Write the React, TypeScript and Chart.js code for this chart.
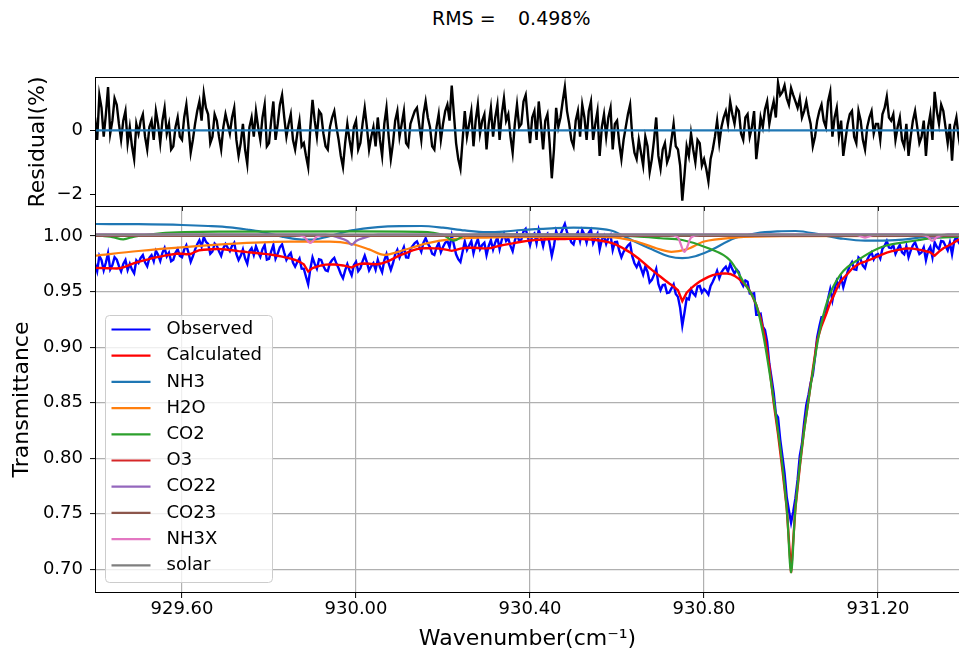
import React, { useEffect, useRef } from "react";
import { Chart, registerables } from "chart.js";

Chart.register(...registerables);

// ---------------- data ----------------
const WN_START = 929.4;
const WN_STEP_CALC = 0.01;
const WN_STEP_OBS = 0.005;

const CALCULATED = [
  0.9713, 0.9712, 0.9711, 0.971, 0.9709, 0.9708, 0.9712, 0.9725, 0.974, 0.9755,
  0.9767, 0.9778, 0.9788, 0.9798, 0.9807, 0.9815, 0.9823, 0.983, 0.9836, 0.9842,
  0.984, 0.9836, 0.9838, 0.9858, 0.9872, 0.9876, 0.9879, 0.9881, 0.9883, 0.9882,
  0.9878, 0.9874, 0.9869, 0.9864, 0.986, 0.9855, 0.9851, 0.9847, 0.9843, 0.9839,
  0.9835, 0.9829, 0.9822, 0.9815, 0.9806, 0.9797, 0.9784, 0.9768, 0.9745, 0.968,
  0.9712, 0.9725, 0.9735, 0.9742, 0.9745, 0.9743, 0.974, 0.9735, 0.9727, 0.9716,
  0.9738, 0.975, 0.9753, 0.975, 0.9746, 0.9746, 0.9755, 0.9767, 0.9785, 0.9805,
  0.9825, 0.984, 0.9855, 0.987, 0.9882, 0.9889, 0.989, 0.989, 0.9889, 0.9887,
  0.9882, 0.9875, 0.9866, 0.9875, 0.9886, 0.9892, 0.9895, 0.9894, 0.9892, 0.989,
  0.9889, 0.9892, 0.9902, 0.9912, 0.992, 0.9927, 0.9934, 0.9941, 0.9948, 0.9954,
  0.9959, 0.9963, 0.9966, 0.9969, 0.9971, 0.9972, 0.9973, 0.9973, 0.9973, 0.9974,
  0.9974, 0.9974, 0.9973, 0.9971, 0.9968, 0.9964, 0.9959, 0.9953, 0.9945, 0.9934,
  0.9918, 0.9898, 0.9875, 0.9853, 0.9825, 0.9795, 0.9762, 0.9728, 0.9695, 0.9664,
  0.9633, 0.9602, 0.9572, 0.9545, 0.9512, 0.9414, 0.949, 0.9528, 0.9562, 0.959,
  0.9612, 0.9632, 0.9648, 0.9657, 0.9663, 0.9664, 0.9658, 0.9642, 0.9614, 0.958,
  0.9538, 0.9468, 0.938, 0.926, 0.909, 0.883, 0.85, 0.822, 0.79, 0.755,
  0.697, 0.755, 0.792, 0.826, 0.852, 0.88, 0.906, 0.919, 0.929, 0.94,
  0.948, 0.957, 0.962, 0.966, 0.9705, 0.9735, 0.9757, 0.977, 0.9784, 0.98,
  0.9818, 0.9835, 0.985, 0.9861, 0.987, 0.9878, 0.9885, 0.9889, 0.9886, 0.988,
  0.9873, 0.9863, 0.9853, 0.9823, 0.986, 0.989, 0.991, 0.993, 0.9955, 0.9975,
];

const OBSERVED = [
  0.9753, 0.9683, 0.9822, 0.9782, 0.9691, 0.9761, 0.9845, 0.97, 0.9739, 0.9809, 0.9788, 0.973, 0.9682, 0.9749, 0.9785, 0.9693, 0.975, 0.9698, 0.9665, 0.9781,
  0.9757, 0.9803, 0.9828, 0.9763, 0.9728, 0.9803, 0.9828, 0.9773, 0.9867, 0.9831, 0.9775, 0.9849, 0.9893, 0.9817, 0.985, 0.9773, 0.9786, 0.9849, 0.9882, 0.9821,
  0.981, 0.9878, 0.9916, 0.9847, 0.9768, 0.9818, 0.9878, 0.9925, 0.9962, 0.9904, 0.9991, 0.9948, 0.9929, 0.984, 0.9861, 0.9932, 0.9913, 0.9863, 0.9822, 0.989,
  0.9928, 0.9896, 0.9864, 0.9912, 0.9939, 0.9837, 0.9784, 0.9822, 0.988, 0.9798, 0.975, 0.9863, 0.9891, 0.9829, 0.9907, 0.9855, 0.9813, 0.9881, 0.9919, 0.9787,
  0.9795, 0.9862, 0.9919, 0.9796, 0.9842, 0.9899, 0.9925, 0.9851, 0.9786, 0.9822, 0.9847, 0.9761, 0.9724, 0.9766, 0.9798, 0.9707, 0.9705, 0.9633, 0.9565, 0.9706,
  0.9807, 0.9749, 0.9705, 0.979, 0.9785, 0.9729, 0.9692, 0.9684, 0.9755, 0.9784, 0.9803, 0.9752, 0.971, 0.9658, 0.962, 0.9691, 0.9747, 0.9692, 0.9646, 0.9737,
  0.9768, 0.9684, 0.971, 0.9772, 0.9823, 0.9762, 0.969, 0.9728, 0.9756, 0.9696, 0.9786, 0.9721, 0.9675, 0.9781, 0.9837, 0.9756, 0.9695, 0.9755, 0.9835, 0.9875,
  0.9805, 0.9853, 0.99, 0.9808, 0.9805, 0.9883, 0.991, 0.9936, 0.9952, 0.9906, 0.9859, 0.994, 0.998, 0.993, 0.99, 0.984, 0.9829, 0.9898, 0.9937, 0.9855,
  0.9902, 0.9939, 0.9955, 0.9901, 1.0006, 0.9921, 0.9835, 0.9791, 0.9766, 0.9859, 0.9952, 0.9874, 0.9915, 0.9955, 0.9844, 0.9923, 0.9972, 0.9881, 0.992, 0.994,
  0.9829, 0.9911, 0.9962, 0.9877, 0.9942, 0.9987, 0.9882, 0.9966, 1.002, 0.9954, 0.9977, 0.9911, 0.9864, 0.9958, 1.0021, 0.9955, 0.9968, 1.0041, 1.0064, 0.9987,
  0.9919, 1.0001, 1.0023, 0.9935, 1.0056, 0.9988, 0.9909, 1.0, 1.0021, 0.9932, 0.9822, 0.9913, 1.0043, 0.9983, 1.0013, 1.0063, 1.0108, 1.0034, 0.9994, 0.9944,
  0.9924, 1.0004, 1.0034, 0.9954, 1.0053, 1.0012, 0.9941, 1.003, 1.0058, 0.9936, 0.9984, 1.0022, 0.9879, 0.9966, 1.0003, 0.9929, 0.9985, 1.001, 0.9874, 0.9946,
  0.9948, 0.9868, 0.9808, 0.9857, 0.9885, 0.9914, 0.9933, 0.9819, 0.9755, 0.972, 0.9765, 0.9709, 0.9652, 0.9725, 0.9678, 0.9582, 0.9605, 0.965, 0.9704, 0.9569,
  0.9513, 0.9558, 0.9562, 0.9487, 0.9492, 0.9529, 0.9565, 0.9479, 0.9452, 0.9353, 0.9194, 0.9312, 0.944, 0.9429, 0.9518, 0.9485, 0.9462, 0.9546, 0.955, 0.9491,
  0.9522, 0.9502, 0.9472, 0.955, 0.9588, 0.9633, 0.9687, 0.962, 0.9673, 0.9704, 0.9724, 0.9681, 0.9748, 0.97, 0.9662, 0.9698, 0.9674, 0.9587, 0.955, 0.9599,
  0.9588, 0.9483, 0.9478, 0.9484, 0.929, 0.929, 0.93, 0.9185, 0.9155, 0.905, 0.885, 0.8725, 0.859, 0.84, 0.8368, 0.817, 0.802, 0.7865, 0.765, 0.753,
  0.742, 0.752, 0.764, 0.7805, 0.802, 0.813, 0.832, 0.848, 0.857, 0.868, 0.875, 0.891, 0.909, 0.9185, 0.927, 0.927, 0.93, 0.9435, 0.952, 0.942,
  0.952, 0.9595, 0.955, 0.9625, 0.954, 0.961, 0.968, 0.9733, 0.9765, 0.97, 0.9695, 0.9806, 0.9787, 0.9734, 0.971, 0.9787, 0.9824, 0.9852, 0.979, 0.9829,
  0.9838, 0.9797, 0.9885, 0.9913, 0.9955, 0.9896, 0.9891, 0.9916, 0.984, 0.9884, 0.9918, 0.9852, 0.9835, 0.9907, 0.9809, 0.9868, 0.9916, 0.9943, 0.989, 0.9837,
  0.9853, 0.9898, 0.9783, 0.9868, 0.9903, 0.9808, 0.9943, 0.9902, 0.988, 0.9955, 0.995, 0.991, 0.987, 0.994, 0.9835, 0.9953, 0.9995, 0.9945, 0.9915,
];

const RESIDUAL = [
  0.4, -0.3, 1.1, 0.7, -0.2, 0.5, 1.35, -0.1, 0.3, 1.0, 0.8, 0.2, -0.3, 0.3, 0.6, -0.4, 0.1, -0.5, -0.9, 0.2,
  -0.1, 0.3, 0.5, -0.2, -0.6, 0.1, 0.3, -0.3, 0.6, 0.2, -0.4, 0.3, 0.7, -0.1, 0.2, -0.6, -0.5, 0.1, 0.4, -0.2,
  -0.3, 0.4, 0.8, 0.1, -0.7, -0.3, 0.2, 0.6, 0.9, 0.3, 1.15, 0.7, 0.5, -0.4, -0.2, 0.5, 0.3, -0.2, -0.6, 0.1,
  0.5, 0.2, -0.1, 0.4, 0.7, -0.3, -0.8, -0.4, 0.2, -0.6, -1.05, 0.1, 0.4, -0.2, 0.6, 0.1, -0.3, 0.4, 0.8, -0.5,
  -0.4, 0.3, 0.9, -0.3, 0.2, 0.8, 1.1, 0.4, -0.2, 0.2, 0.5, -0.3, -0.6, -0.1, 0.3, -0.5, -0.4, -0.8, -1.15, 0.1,
  0.95, 0.3, -0.2, 0.6, 0.5, -0.1, -0.5, -0.6, 0.1, 0.4, 0.6, 0.1, -0.3, -0.8, -1.15, -0.4, 0.2, -0.3, -0.7, 0.1,
  0.3, -0.6, -0.4, 0.2, 0.7, 0.1, -0.6, -0.2, 0.1, -0.5, 0.4, -0.3, -0.8, 0.2, 0.7, -0.2, -0.9, -0.4, 0.3, 0.6,
  -0.2, 0.2, 0.6, -0.4, -0.5, 0.2, 0.4, 0.6, 0.7, 0.2, -0.3, 0.5, 0.9, 0.4, 0.1, -0.5, -0.6, 0.1, 0.5, -0.3,
  0.2, 0.6, 0.8, 0.3, 1.4, 0.5, -0.4, -0.9, -1.2, -0.3, 0.6, -0.2, 0.2, 0.6, -0.5, 0.3, 0.8, -0.1, 0.3, 0.5,
  -0.6, 0.2, 0.7, -0.2, 0.4, 0.8, -0.3, 0.5, 1.0, 0.3, 0.5, -0.2, -0.7, 0.2, 0.8, 0.1, 0.2, 0.9, 1.1, 0.3,
  -0.4, 0.4, 0.6, -0.3, 0.9, 0.2, -0.6, 0.3, 0.5, -0.4, -1.5, -0.6, 0.7, 0.1, 0.4, 0.9, 1.35, 0.6, 0.2, -0.3,
  -0.5, 0.3, 0.6, -0.2, 0.8, 0.4, -0.3, 0.6, 0.9, -0.3, 0.2, 0.6, -0.8, 0.1, 0.5, -0.2, 0.4, 0.7, -0.6, 0.2,
  0.3, -0.4, -0.9, -0.3, 0.1, 0.5, 0.8, -0.2, -0.7, -0.9, -0.3, -0.7, -1.1, -0.2, -0.5, -1.3, -0.9, -0.3, 0.4, -0.8,
  -1.2, -0.6, -0.4, -1.0, -0.8, -0.3, 0.2, -0.5, -0.6, -1.1, -2.2, -1.4, -0.5, -0.8, -0.1, -0.6, -1.0, -0.3, -0.4, -1.1,
  -0.9, -1.2, -1.6, -0.9, -0.6, -0.2, 0.3, -0.4, 0.1, 0.4, 0.6, 0.2, 0.9, 0.5, 0.2, 0.7, 0.6, -0.1, -0.3, 0.4,
  0.5, -0.2, 0.1, 0.6, -0.9, -0.3, 0.4, 0.1, 0.65, 0.9, 0.2, 0.6, 0.9, 0.4, 1.48, 1.1, 1.2, 1.4, 1.0, 0.8,
  1.32, 1.1, 0.9, 0.7, 1.0, 0.4, 0.6, 0.9, 0.5, 0.2, -0.5, -0.2, 0.3, 0.6, 0.8, 0.3, 0.1, 0.9, 1.2, -0.2,
  0.4, 0.7, -0.2, 0.3, -0.8, -0.3, 0.2, 0.5, 0.6, -0.2, -0.4, 0.6, 0.3, -0.3, -0.6, 0.1, 0.4, 0.6, -0.1, 0.2,
  0.2, -0.3, 0.5, 0.7, 1.05, 0.4, 0.3, 0.5, -0.3, 0.1, 0.4, -0.3, -0.5, 0.2, -0.8, -0.2, 0.3, 0.6, 0.1, -0.4,
  -0.2, 0.3, -0.8, 0.1, 0.5, -0.3, 1.2, 0.6, 0.2, 0.8, 0.6, 0.1, -0.4, 0.2, -0.95, 0.1, 0.4, -0.2, -0.6,
];

const NH3_WN = [929.4, 929.5, 929.6, 929.66, 929.71, 929.75, 929.78, 929.83, 929.87, 929.9, 929.93, 929.99, 930.05, 930.1, 930.15, 930.2, 930.25, 930.3, 930.34, 930.38, 930.45, 930.5, 930.55, 930.59, 930.63, 930.68, 930.72, 930.75, 930.78, 930.81, 930.87, 930.92, 930.97, 931.01, 931.07, 931.12, 931.17, 931.24, 931.32, 931.39];
const NH3_T = [1.0108, 1.0106, 1.0099, 1.009, 1.0078, 1.0058, 1.004, 0.9995, 0.997, 0.9967, 0.999, 1.005, 1.008, 1.0089, 1.009, 1.0075, 1.005, 1.0035, 1.004, 1.0054, 1.0069, 1.0075, 1.0068, 1.0045, 0.997, 0.988, 0.9815, 0.98, 0.9818, 0.9862, 0.998, 1.0025, 1.0042, 1.0045, 1.001, 0.9975, 0.9958, 0.9963, 0.9994, 1.0002];

const H2O_WN = [929.4, 929.5, 929.62, 929.73, 929.85, 929.94, 929.99, 930.03, 930.065, 930.11, 930.16, 930.22, 930.3, 930.45, 930.58, 930.64, 930.69, 930.725, 930.76, 930.8, 930.87, 930.98, 931.39];
const H2O_T = [0.9823, 0.9865, 0.9904, 0.9934, 0.995, 0.995, 0.9928, 0.988, 0.983, 0.9874, 0.9932, 0.9972, 0.9986, 0.9992, 0.999, 0.9955, 0.989, 0.9858, 0.988, 0.995, 0.9985, 0.9998, 1.0];

const CO2_WN = [929.4, 929.44, 929.465, 929.49, 929.55, 929.7, 930.0, 930.15, 930.2, 930.225, 930.25, 930.32, 930.5, 930.62, 930.7, 930.75, 930.81, 930.86, 930.89, 930.92, 930.936, 930.96, 930.978, 930.991, 931.0, 931.009, 931.022, 931.04, 931.064, 931.083, 931.113, 931.166, 931.21, 931.28, 931.32, 931.39];
const CO2_T = [1.0008, 0.999, 0.997, 0.9995, 1.0025, 1.004, 1.0042, 1.0038, 1.001, 0.9958, 1.0005, 1.0015, 1.0012, 1.0, 0.998, 0.9964, 0.989, 0.978, 0.959, 0.938, 0.911, 0.8523, 0.8, 0.75, 0.697, 0.75, 0.8, 0.852, 0.911, 0.941, 0.965, 0.9814, 0.9904, 0.9955, 0.9979, 0.9994];

const O3_WN = [929.4, 931.39];
const O3_T = [1.0, 1.0];

const CO22_WN = [929.4, 929.93, 929.96, 929.98, 929.99, 930.0, 930.02, 930.05, 931.3, 931.33, 931.36, 931.39];
const CO22_T = [1.0015, 1.0012, 0.9985, 0.9955, 0.992, 0.9955, 0.9985, 1.0012, 1.0015, 0.998, 1.0015, 1.0015];

const CO23_WN = [929.4, 931.39];
const CO23_T = [1.0, 1.0];

const NH3X_WN = [929.4, 929.86, 929.88, 929.895, 929.91, 929.93, 930.72, 930.74, 930.755, 930.77, 930.79, 931.15, 931.17, 931.19, 931.3, 931.315, 931.325, 931.335, 931.35, 931.39];
const NH3X_T = [1.001, 1.001, 0.9995, 0.9938, 0.9995, 1.001, 1.001, 0.9985, 0.9858, 0.9985, 1.001, 1.001, 0.9985, 1.001, 1.001, 0.999, 0.9955, 0.999, 1.001, 1.001];

const SOLAR_WN = [929.4, 931.39];
const SOLAR_T = [1.0013, 1.0013];

const SERIES_LABELS = ["Observed", "Calculated", "NH3", "H2O", "CO2", "O3", "CO22", "CO23", "NH3X", "solar"];
const SERIES_COLORS = ["#0000ff", "#ff0000", "#1f77b4", "#ff7f0e", "#2ca02c", "#d62728", "#9467bd", "#8c564b", "#e377c2", "#7f7f7f"];

const X_TICKS = [929.6, 930.0, 930.4, 930.8, 931.2];
const T_TICKS = [0.7, 0.75, 0.8, 0.85, 0.9, 0.95, 1.0];
const R_TICKS = [-2, 0];
const ZERO_LEVEL = 0;

const X_MIN = 929.4023;
const X_MAX = 931.386;
const T_MIN = 0.6796;
const T_MAX = 1.0261;
const R_MIN = -2.366;
const R_MAX = 1.634;

const RMS_LABEL = "RMS =";
const RMS_VALUE = "0.498%";

// ---------------- rendering ----------------
const FONT = "'DejaVu Sans', 'Liberation Sans', sans-serif";
const W = 959;
const H = 652;

const framePlugin = {
  id: "mplFrame",
  afterDatasetsDraw(chart: any) {
    const { ctx, chartArea: a } = chart;
    ctx.save();
    ctx.strokeStyle = "#000";
    ctx.lineWidth = 1;
    const l = Math.round(a.left) - 0.5;
    const t = Math.round(a.top) - 0.5;
    const r = Math.round(a.right) + 0.5;
    const b = Math.round(a.bottom) + 0.5;
    ctx.strokeRect(l, t, r - l, b - t);
    ctx.restore();
  },
};

const legendPlugin = {
  id: "mplLegend",
  afterDraw(chart: any) {
    const { ctx, chartArea: a } = chart;
    const rowH = 26.2;
    const w = 167;
    const h = 267;
    const left = Math.round(a.left + 9) + 0.5;
    const top = Math.round(a.bottom - 10 - h) + 0.5;
    ctx.save();
    ctx.beginPath();
    if (ctx.roundRect) ctx.roundRect(left, top, w, h, 4);
    else ctx.rect(left, top, w, h);
    ctx.fillStyle = "rgba(255,255,255,0.8)";
    ctx.fill();
    ctx.strokeStyle = "#cccccc";
    ctx.lineWidth = 1;
    ctx.stroke();
    ctx.font = `18px ${FONT}`;
    ctx.textBaseline = "middle";
    ctx.textAlign = "left";
    SERIES_LABELS.forEach((lab, k) => {
      const y = top + 14 + k * rowH;
      ctx.strokeStyle = SERIES_COLORS[k];
      ctx.lineWidth = 2.2;
      ctx.beginPath();
      ctx.moveTo(left + 6, y);
      ctx.lineTo(left + 45, y);
      ctx.stroke();
      ctx.fillStyle = "#000";
      ctx.fillText(lab, left + 61, y);
    });
    ctx.restore();
  },
};

function pts(xs: number[], ys: number[]) {
  return xs.map((x, i) => ({ x, y: ys[i] }));
}

export default function App() {
  const topRef = useRef<HTMLCanvasElement>(null);
  const botRef = useRef<HTMLCanvasElement>(null);

  useEffect(() => {
    const wnCalc = CALCULATED.map((_, i) => +(WN_START + i * WN_STEP_CALC).toFixed(3));
    const wnObs = OBSERVED.map((_, i) => +(WN_START + i * WN_STEP_OBS).toFixed(4));

    const baseOpts: any = {
      responsive: false,
      animation: false,
      devicePixelRatio: 1,
      events: [],
      plugins: {
        legend: { display: false },
        tooltip: { enabled: false },
        title: { display: false },
      },
      elements: { point: { radius: 0 }, line: { borderWidth: 2.2, tension: 0 } },
    };

    const tickFont = { family: FONT, size: 18 };
    const titleFont = { family: FONT, size: 22 };

    const c1 = new Chart(topRef.current as HTMLCanvasElement, {
      type: "line",
      data: {
        datasets: [
          {
            label: "Residual",
            data: pts(wnObs, RESIDUAL),
            borderColor: "#000000",
            borderWidth: 2.4,
            order: 2,
          },
          {
            label: "zero",
            data: [
              { x: X_MIN, y: ZERO_LEVEL },
              { x: X_MAX, y: ZERO_LEVEL },
            ],
            borderColor: "#1f77b4",
            borderWidth: 2.2,
            order: 1,
          },
        ],
      },
      options: {
        ...baseOpts,
        layout: { padding: { top: 78, left: 0, right: 0, bottom: 0 } },
        scales: {
          x: {
            type: "linear",
            min: X_MIN,
            max: X_MAX,
            afterFit: (s: any) => {
              s.height = H - 206;
            },
            afterBuildTicks: (s: any) => {
              s.ticks = X_TICKS.map((v) => ({ value: v }));
            },
            grid: { drawOnChartArea: false, drawTicks: true, tickLength: 5, tickColor: "#000", tickWidth: 1 },
            border: { display: false },
            ticks: { display: false },
          },
          y: {
            type: "linear",
            min: R_MIN,
            max: R_MAX,
            afterFit: (s: any) => {
              s.width = 96;
            },
            afterBuildTicks: (s: any) => {
              s.ticks = R_TICKS.map((v) => ({ value: v }));
            },
            grid: { drawOnChartArea: false, drawTicks: true, tickLength: 6, tickColor: "#000", tickWidth: 1 },
            border: { display: false },
            ticks: {
              color: "#000",
              font: tickFont,
              padding: 7,
              callback: (v: any) => (Number(v) < 0 ? "\u2212" + Math.abs(Number(v)) : String(v)),
            },
            title: {
              display: true,
              text: "Residual(%)",
              color: "#000",
              font: titleFont,
              padding: { top: 24.8, bottom: 0 },
            },
          },
        },
      },
      plugins: [framePlugin],
    } as any);

    const series = [
      pts(wnObs, OBSERVED),
      pts(wnCalc, CALCULATED),
      pts(NH3_WN, NH3_T),
      pts(H2O_WN, H2O_T),
      pts(CO2_WN, CO2_T),
      pts(O3_WN, O3_T),
      pts(CO22_WN, CO22_T),
      pts(CO23_WN, CO23_T),
      pts(NH3X_WN, NH3X_T),
      pts(SOLAR_WN, SOLAR_T),
    ];

    const c2 = new Chart(botRef.current as HTMLCanvasElement, {
      type: "line",
      data: {
        datasets: series.map((d, k) => ({
          label: SERIES_LABELS[k],
          data: d,
          borderColor: SERIES_COLORS[k],
          borderWidth: k < 2 ? 2.4 : 2.2,
          cubicInterpolationMode: k < 2 ? "default" : "monotone",
          tension: k < 2 ? 0 : 0.4,
          order: series.length - k,
        })),
      },
      options: {
        ...baseOpts,
        layout: { padding: { top: 207, left: 0, right: 0, bottom: 0 } },
        scales: {
          x: {
            type: "linear",
            min: X_MIN,
            max: X_MAX,
            afterFit: (s: any) => {
              s.height = H - 592;
            },
            afterBuildTicks: (s: any) => {
              s.ticks = X_TICKS.map((v) => ({ value: v }));
            },
            grid: { color: "#b0b0b0", lineWidth: 1.2, drawTicks: true, tickLength: 6, tickColor: "#000", tickWidth: 1 },
            border: { display: false },
            ticks: {
              color: "#000",
              font: tickFont,
              padding: 1,
              maxRotation: 0,
              autoSkip: false,
              callback: (v: any) => Number(v).toFixed(2),
            },
            title: {
              display: true,
              text: "Wavenumber(cm\u207B\u00B9)",
              color: "#000",
              font: titleFont,
              padding: { top: 0, bottom: 0 },
            },
          },
          y: {
            type: "linear",
            min: T_MIN,
            max: T_MAX,
            afterFit: (s: any) => {
              s.width = 96;
            },
            afterBuildTicks: (s: any) => {
              s.ticks = T_TICKS.map((v) => ({ value: v }));
            },
            grid: { color: "#b0b0b0", lineWidth: 1.2, drawTicks: true, tickLength: 6, tickColor: "#000", tickWidth: 1 },
            border: { display: false },
            ticks: {
              color: "#000",
              font: tickFont,
              padding: 7,
              callback: (v: any) => Number(v).toFixed(2),
            },
            title: {
              display: true,
              text: "Transmittance",
              color: "#000",
              font: titleFont,
              padding: { top: 8.8, bottom: 0 },
            },
          },
        },
      },
      plugins: [framePlugin, legendPlugin],
    } as any);

    return () => {
      c1.destroy();
      c2.destroy();
    };
  }, []);

  const titleStyle: React.CSSProperties = {
    position: "absolute",
    top: 8,
    fontFamily: FONT,
    fontSize: 19,
    lineHeight: "20px",
    color: "#000",
    whiteSpace: "pre",
  };

  return (
    <div
      style={{
        position: "absolute",
        left: 0,
        top: 0,
        width: W,
        height: H,
        background: "#ffffff",
        overflow: "hidden",
      }}
    >
      <span style={{ ...titleStyle, left: 432 }}>{RMS_LABEL}</span>
      <span style={{ ...titleStyle, left: 518 }}>{RMS_VALUE}</span>
      <canvas ref={topRef} width={W} height={H} style={{ position: "absolute", left: 0, top: 0 }} />
      <canvas ref={botRef} width={W} height={H} style={{ position: "absolute", left: 0, top: 0 }} />
    </div>
  );
}
